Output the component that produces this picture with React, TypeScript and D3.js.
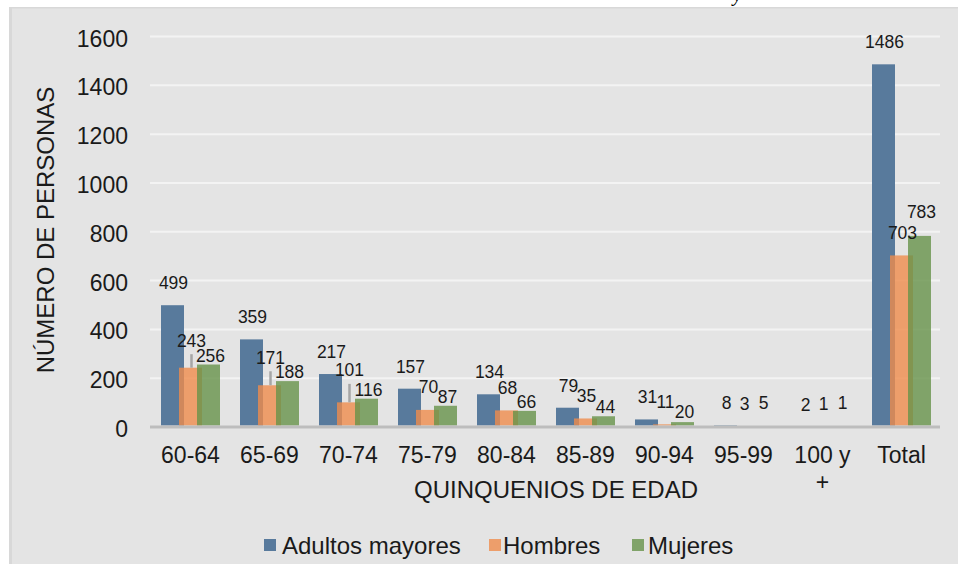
import React from 'react';
import * as d3 from 'd3';

const categories = ['60-64', '65-69', '70-74', '75-79', '80-84', '85-89', '90-94', '95-99', '100 y +', 'Total'];
const adultosMayores = [499, 359, 217, 157, 134, 79, 31, 8, 2, 1486];
const hombres = [243, 171, 101, 70, 68, 35, 11, 3, 1, 703];
const mujeres = [256, 188, 116, 87, 66, 44, 20, 5, 1, 783];
const yTicks = [0, 200, 400, 600, 800, 1000, 1200, 1400, 1600];

const width = 958;
const height = 564;
const font = 'Liberation Sans, Arial, sans-serif';

const series = [
  { name: 'Adultos mayores', values: adultosMayores, color: '#587a9c', opacity: 1, lift: 22, dx: 1 },
  { name: 'Hombres', values: hombres, color: '#ef8c4c', opacity: 0.8, lift: 22.5, dx: 1 },
  { name: 'Mujeres', values: mujeres, color: '#66924a', opacity: 0.8, lift: 9, dx: 2 },
];

// labels that were dragged by hand in the original chart
const liftOverrides: Record<string, number> = {
  'Hombres-0': 27,
  'Hombres-1': 27.5,
  'Hombres-2': 32,
  'Mujeres-6': 10,
  'Mujeres-7': 22.5,
  'Mujeres-8': 23.5,
  'Mujeres-9': 23.5,
};
const leaderLines = ['Hombres-0', 'Hombres-1', 'Hombres-2'];

const legendPos = [
  { box: 264, text: 282 },
  { box: 489, text: 503 },
  { box: 632, text: 648 },
];

export default function App() {
  const x = d3.scaleBand<string>().domain(categories).range([150, 940]);
  const y = d3.scaleLinear().domain([0, 1600]).range([427, 36.5]);
  const barW = 23;
  const step = 18;
  const cx = (c: string, i: number) => (x(c) as number) + x.bandwidth() / 2 + 1 + (i - 1) * step;

  return (
    <svg
      width={width}
      height={height}
      style={{ position: 'absolute', left: 0, top: 0, background: '#fff' }}
    >
      <text x={733} y={1} fontFamily="Liberation Serif, serif" fontStyle="italic" fontSize={20}>y</text>
      <rect x={9} y={7} width={width - 9} height={height - 7} fill="#e4e4e4" />
      <rect x={9} y={7} width={3} height={height - 7} fill="#d8d8d8" />
      <rect x={9} y={7} width={width - 9} height={1.5} fill="#d8d8d8" />

      {yTicks.filter(t => t > 0).map(t => (
        <line key={t} x1={150} x2={940} y1={y(t)} y2={y(t)} stroke="#f3f3f3" strokeWidth={2} />
      ))}

      {yTicks.map(t => (
        <text key={t} x={128} y={y(t) + 2} textAnchor="end" dominantBaseline="central"
          fontFamily={font} fontSize={23} fill="#1a1a1a">{t}</text>
      ))}

      {series.map((s, i) => (
        <g key={s.name}>
          {categories.map((c, j) => (
            <rect key={c} x={cx(c, i) - barW / 2} y={y(s.values[j])} width={barW}
              height={y(0) - y(s.values[j]) - 1.5} fill={s.color} fillOpacity={s.opacity} />
          ))}
        </g>
      ))}

      <line x1={150} x2={940} y1={y(0)} y2={y(0)} stroke="#bdbdbd" strokeWidth={3} />

      {series.map((s, i) => (
        <g key={s.name}>
          {categories.map((c, j) => {
            const k = `${s.name}-${j}`;
            const lift = liftOverrides[k] ?? s.lift;
            const lx = cx(c, i) + s.dx;
            const ly = y(s.values[j]) - lift;
            return (
              <g key={c}>
                {leaderLines.includes(k) && (
                  <line x1={lx} x2={lx} y1={ly + 13.5} y2={y(s.values[j])} stroke="#a6a6a6" strokeWidth={2.5} />
                )}
                <text x={lx} y={ly} textAnchor="middle" dominantBaseline="central"
                  fontFamily={font} fontSize={17.5} fill="#1a1a1a">{s.values[j]}</text>
              </g>
            );
          })}
        </g>
      ))}

      {categories.map(c => {
        const px = (x(c) as number) + x.bandwidth() / 2 + 1;
        const lines = c === '100 y +' ? ['100 y', '+'] : [c];
        return lines.map((l, k) => (
          <text key={c + k} x={px} y={455 + k * 27} textAnchor="middle" dominantBaseline="central"
            fontFamily={font} fontSize={23} fill="#1a1a1a">{l}</text>
        ));
      })}

      <text x={556} y={489} textAnchor="middle" dominantBaseline="central"
        fontFamily={font} fontSize={24} fill="#1a1a1a">QUINQUENIOS DE EDAD</text>
      <text transform="translate(45,230) rotate(-90)" textAnchor="middle" dominantBaseline="central"
        fontFamily={font} fontSize={24} fill="#1a1a1a">NÚMERO DE PERSONAS</text>

      {series.map((s, i) => (
        <g key={s.name}>
          <rect x={legendPos[i].box} y={539} width={12} height={12} fill={s.color} fillOpacity={s.opacity} />
          <text x={legendPos[i].text} y={545} dominantBaseline="central"
            fontFamily={font} fontSize={24} fill="#1a1a1a">{s.name}</text>
        </g>
      ))}
    </svg>
  );
}
